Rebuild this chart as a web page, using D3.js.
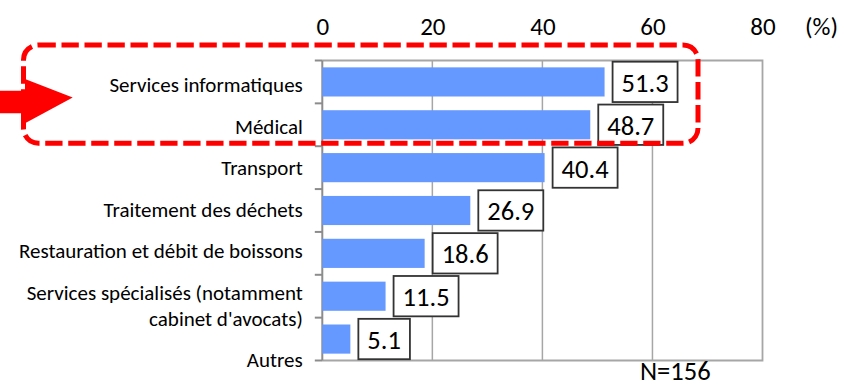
<!DOCTYPE html>
<html>
<head>
<meta charset="utf-8">
<script src="https://cdn.jsdelivr.net/npm/d3@7/dist/d3.min.js"></script>
<style>
  html, body { margin: 0; padding: 0; background: #fff; }
  svg { display: block; }
  text { font-family: Carlito, Calibri, Lato, "Open Sans", sans-serif; fill: #000; }
</style>
</head>
<body>
<svg id="chart" width="844" height="386"></svg>
<script>
// Secteurs concernés (%), N=156
const categories = [
  "Services informatiques",
  "Médical",
  "Transport",
  "Traitement des déchets",
  "Restauration et débit de boissons",
  "Services spécialisés (notamment\ncabinet d'avocats)",
  "Autres"
];
const values = [51.3, 48.7, 40.4, 26.9, 18.6, 11.5, 5.1];
const xTicks = [0, 20, 40, 60, 80];
const unitLabel = "(%)";
const sampleLabel = "N=156";
const highlighted = ["Services informatiques", "Médical"];

const svg = d3.select("#chart");

const plot = { left: 322.3, right: 762.5, top: 60.5, bottom: 360.5 };
const gridColor = "#a6a6a6";
const axisColor = "#8c8c8c";
const barColor = "#6699ff";

const x = d3.scaleLinear().domain([0, 80]).range([plot.left, plot.right]);
const y = d3.scaleBand().domain(categories)
  .range([plot.top, plot.bottom])
  .paddingInner(0.32).paddingOuter(0.16);
const step = y.step();
const pad = (step - y.bandwidth()) / 2;

// vertical gridlines
svg.append("g").selectAll("line")
  .data(xTicks.filter(t => t > 0 && t < 80))
  .join("line")
  .attr("x1", d => x(d)).attr("x2", d => x(d))
  .attr("y1", plot.top).attr("y2", plot.bottom)
  .attr("stroke", gridColor).attr("stroke-width", 1.5);

// plot frame: top, right, bottom
svg.append("path")
  .attr("d", `M${plot.left},${plot.top}H${plot.right}V${plot.bottom}H${plot.left}`)
  .attr("fill", "none").attr("stroke", gridColor).attr("stroke-width", 1.8);

// left axis with ticks at category boundaries
const boundaries = d3.range(categories.length + 1).map(i => plot.top + i * step);
svg.append("line")
  .attr("x1", plot.left).attr("x2", plot.left)
  .attr("y1", plot.top).attr("y2", plot.bottom)
  .attr("stroke", axisColor).attr("stroke-width", 2);
svg.append("g").selectAll("line")
  .data(boundaries)
  .join("line")
  .attr("x1", plot.left - 7.5).attr("x2", plot.left)
  .attr("y1", d => d).attr("y2", d => d)
  .attr("stroke", axisColor).attr("stroke-width", 2);

// top value axis
const xAxis = svg.append("g")
  .attr("transform", `translate(0,${plot.top - 26})`)
  .call(d3.axisTop(x).tickValues(xTicks).tickSize(0).tickPadding(0));
xAxis.select(".domain").remove();
xAxis.selectAll("text")
  .attr("font-size", 25).attr("font-family", null).attr("dy", 0);
xAxis.attr("font-family", null);

svg.append("text")
  .attr("x", 805).attr("y", plot.top - 26)
  .attr("font-size", 25)
  .text(unitLabel);

// bars
svg.append("g").selectAll("rect")
  .data(values)
  .join("rect")
  .attr("x", x(0))
  .attr("y", (d, i) => y(categories[i]))
  .attr("width", d => x(d) - x(0))
  .attr("height", y.bandwidth())
  .attr("fill", barColor);

// value boxes
const boxes = svg.append("g").selectAll("g")
  .data(values)
  .join("g")
  .attr("transform", (d, i) => `translate(${x(d) + 8},${y(categories[i]) - pad + 1.2})`);
boxes.append("rect").attr("class", "vbox")
  .attr("height", step - 2.5)
  .attr("fill", "#fff").attr("stroke", "#333").attr("stroke-width", 1.8);
boxes.append("text")
  .attr("x", 9).attr("y", (step - 2.5) / 2 + 10)
  .attr("font-size", 26.5)
  .text(d => d.toFixed(1));
boxes.each(function () {
  const g = d3.select(this);
  const w = g.select("text").node().getComputedTextLength();
  g.select("rect").attr("width", w + 18);
});

// category labels, stacked with wrapped lines
const lineH = 26;
let baseline = y(categories[0]) + y.bandwidth() / 2 + 10.4;
const labelG = svg.append("g").attr("text-anchor", "end");
categories.forEach(c => {
  const lines = c.split("\n");
  const t = labelG.append("text").attr("font-size", 21);
  lines.forEach((ln, j) => {
    t.append("tspan").attr("x", plot.left - 19.5).attr("y", baseline + j * lineH).text(ln);
  });
  baseline += 41.5 + (lines.length - 1) * lineH;
});

// sample size
svg.append("text")
  .attr("x", 640).attr("y", 380)
  .attr("font-size", 26.5)
  .text(sampleLabel);

// highlight frame around the leading categories
const hlTop = y(highlighted[0]) - pad - 15.5;
const hlBottom = y(highlighted[highlighted.length - 1]) + y.bandwidth() + pad - 3;
svg.append("rect")
  .attr("x", 23.5).attr("y", hlTop)
  .attr("width", 698 - 23.5).attr("height", hlBottom - hlTop)
  .attr("rx", 15).attr("ry", 15)
  .attr("fill", "none").attr("stroke", "#ff0000")
  .attr("stroke-width", 5).attr("stroke-dasharray", "17.3 5.7");

// pointer arrow
svg.append("polygon")
  .attr("points", [[0, 90.7], [25, 90.7], [25, 79], [72.7, 97.5], [25, 123.3], [25, 113.3], [0, 113.3]].join(" "))
  .attr("fill", "#ff0000");
</script>
</body>
</html>
